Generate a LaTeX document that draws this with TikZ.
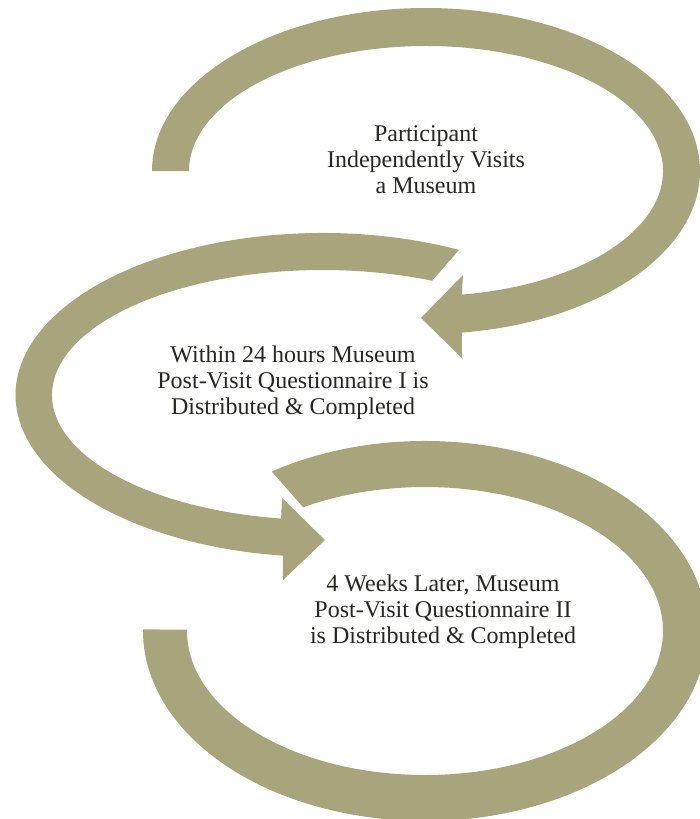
\documentclass[tikz,border=0pt]{standalone}
\usepackage{fontspec}
\setmainfont{Liberation Serif}
\definecolor{bandcol}{RGB}{168,165,125}
\definecolor{txtcol}{RGB}{38,38,34}
\begin{document}
\begin{tikzpicture}[x=1pt,y=1pt,
  band/.style={fill=bandcol},
  lbl/.style={text=txtcol, align=center, inner sep=0pt, font=\fontsize{24}{26}\selectfont}]
\useasboundingbox (0,-819) rectangle (699,0);
\coordinate (c1) at (426,-171);
\coordinate (c2) at (322.5,-395);
\coordinate (c3) at (425,-631);
% ring 1 (with arrowhead pointing left)
\fill[band] ([shift={(180:274pt and 163pt)}]c1)
  arc[start angle=180, end angle=-82.5, x radius=274pt, y radius=163pt]
  -- (462,-358) -- (421,-318) -- (463,-275)
  -- ([shift={(-81.3:237pt and 125pt)}]c1)
  arc[start angle=-81.3, end angle=180, x radius=237pt, y radius=125pt] -- cycle;
% ring 2 (with arrowhead pointing right)
\fill[band] ([shift={(63.6:307pt and 162pt)}]c2)
  arc[start angle=63.6, end angle=262.6, x radius=307pt, y radius=162pt]
  -- (283,-580) -- (325,-540) -- (282,-498)
  -- ([shift={(261.2:270.5pt and 125pt)}]c2)
  arc[start angle=261.2, end angle=66.1, x radius=270.5pt, y radius=125pt] -- cycle;
% ring 3 (no arrowhead)
\fill[band] ([shift={(122.9:282pt and 190pt)}]c3)
  arc[start angle=122.9, end angle=-180.5, x radius=282pt, y radius=190pt]
  -- ([shift={(-180.5:238pt and 144pt)}]c3)
  arc[start angle=-180.5, end angle=120.8, x radius=238pt, y radius=144pt] -- cycle;
% labels
\node[lbl] (s1) at (426,-160) {Participant\\Independently Visits\\a Museum};
\node[lbl] (s2) at (293,-383) {Within 24 hours Museum\\Post-Visit Questionnaire I is\\Distributed \& Completed};
\node[lbl] (s3) at (443,-612) {4 Weeks Later, Museum\\Post-Visit Questionnaire II\\is Distributed \& Completed};
\end{tikzpicture}
\end{document}
